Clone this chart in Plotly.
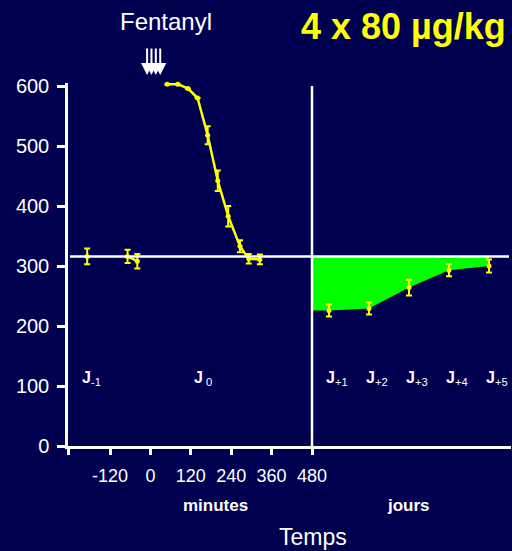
import plotly.graph_objects as go

# ---- data -------------------------------------------------------------
# day before (J-1), minutes relative to first dose
jm1_t = [-188]
jm1_v = [316]
jm1_e = [13]

# day 0, before the doses
pre_t = [-68, -39]
pre_v = [316, 308]
pre_e = [11, 12]

# day 0, after the doses
post_t = [50, 81, 111, 140, 170, 200, 231, 266, 292, 325]
post_v = [603, 603, 596, 580, 518, 442, 383, 333, 312, 311]
post_e = [0, 0, 0, 0, 15, 17, 17, 10, 8, 8]

# following days J+1 .. J+5
days = [1, 2, 3, 4, 5]
day_v = [226, 229, 264, 293, 300]
day_e = [10, 10, 13, 10, 11]

baseline = 316
dose_t = [-10, 3, 16, 29]

min_ticks = [-120, 0, 120, 240, 360, 480]
y_ticks = [0, 100, 200, 300, 400, 500, 600]

day_labels = ["+1", "+2", "+3", "+4", "+5"]

# ---- style --------------------------------------------------------------
BG = "#000050"
WHITE = "#ffffff"
YEL = "#ffff00"
GREEN = "#00ff00"
FONT = "Liberation Sans, Arial, sans-serif"

W, H = 512, 551
ML, MR, MT, MB = 68, 1, 83, 105
PW, PH = W - ML - MR, H - MT - MB

MIN_RANGE = [-245, 480]
DAY_RANGE = [0.575, 5.55]
Y_RANGE = [0, 605]
split = (312 - ML) / PW


def px(x):
    return (x - ML) / PW


def py(y):
    return (H - MB - y) / PH


fig = go.Figure()


def err(e):
    return dict(type="data", array=e, visible=True, color=YEL,
                thickness=2, width=3)


# green area between the baseline and the day values
fill_x = [DAY_RANGE[0]] + days + [days[-1], DAY_RANGE[0]]
fill_y = [day_v[0]] + day_v + [baseline, baseline]
fig.add_trace(go.Scatter(x=fill_x, y=fill_y, fill="toself", fillcolor=GREEN,
                         mode="none", xaxis="x2", yaxis="y",
                         hoverinfo="skip", showlegend=False))

for t, v, e, mode in [(jm1_t, jm1_v, jm1_e, "markers"),
                      (pre_t, pre_v, pre_e, "lines+markers"),
                      (post_t, post_v, post_e, "lines+markers")]:
    fig.add_trace(go.Scatter(x=t, y=v, mode=mode, error_y=err(e),
                             line=dict(color=YEL, width=2.5),
                             marker=dict(color=YEL, size=5),
                             cliponaxis=False, showlegend=False))

fig.add_trace(go.Scatter(x=days, y=day_v, mode="markers", error_y=err(day_e),
                         marker=dict(color=YEL, size=5), xaxis="x2",
                         cliponaxis=False, showlegend=False))

# reference level and the minutes/days separator
fig.add_shape(type="line", xref="paper", yref="y", x0=px(70), x1=px(509),
              y0=baseline, y1=baseline, line=dict(color=WHITE, width=2.5))
fig.add_shape(type="line", xref="paper", yref="paper", x0=split, x1=split,
              y0=0, y1=y_ticks[-1] / Y_RANGE[1],
              line=dict(color=WHITE, width=2.5))

ann = []
# dose arrows
for t in dose_t:
    ann.append(dict(x=t, y=py(75), xref="x", yref="paper", text="",
                    showarrow=True, ax=0, ay=-28, arrowcolor=WHITE,
                    arrowwidth=2, arrowhead=2, arrowsize=1.2))


def label(x, y, text, size, color=WHITE, xref="paper", yref="paper", **kw):
    return dict(x=x, y=y, xref=xref, yref=yref, text=text, showarrow=False,
                xanchor="center", yanchor="middle",
                font=dict(size=size, color=color, family=FONT), **kw)


# day labels
ann.append(label(-174, 113, "<b>J</b><sub>-1</sub>", 16, xref="x", yref="y"))
ann.append(label(156, 113, "<b>J</b><sub> 0</sub>", 16, xref="x", yref="y"))
for d, lab in zip(days, day_labels):
    ann.append(label(d, 113, "<b>J</b><sub>" + lab + "</sub>", 16,
                     xref="x2", yref="y", xshift=8))

ann += [
    label(px(215), py(505), "<b>minutes</b>", 17),
    label(px(408), py(505), "<b>jours</b>", 17),
    label(px(313), py(537), "Temps", 23),
    label(px(166), py(22), "Fentanyl", 24),
    label(px(403), py(26), "<b>4 x 80 µg/kg</b>", 36, color=YEL),
]

fig.update_layout(
    template="none",
    width=W, height=H,
    margin=dict(l=ML, r=MR, t=MT, b=MB, autoexpand=False),
    paper_bgcolor=BG, plot_bgcolor=BG,
    font=dict(family=FONT, color=WHITE),
    showlegend=False,
    annotations=ann,
    xaxis=dict(domain=[0, split], range=MIN_RANGE, showgrid=False,
               zeroline=False, showline=True, linecolor=WHITE, linewidth=2.5,
               ticks="outside", ticklen=6, tickwidth=2.5, tickcolor=WHITE,
               tickvals=[MIN_RANGE[0]] + min_ticks,
               ticktext=[""] + [str(v) for v in min_ticks],
               tickfont=dict(size=18, color=WHITE, family=FONT),
               ticklabelstandoff=6, automargin=False),
    xaxis2=dict(domain=[split, 1], range=DAY_RANGE, anchor="y", showgrid=False,
                zeroline=False, showline=True, linecolor=WHITE, linewidth=2.5,
                showticklabels=False, ticks="", automargin=False),
    yaxis=dict(range=Y_RANGE, showgrid=False, zeroline=False, showline=True,
               linecolor=WHITE, linewidth=2.5, ticks="outside", ticklen=8,
               tickwidth=2.5, tickcolor=WHITE, tickvals=y_ticks,
               tickfont=dict(size=20, color=WHITE, family=FONT),
               ticklabelstandoff=4, automargin=False),
)

fig.write_html("out.html")
